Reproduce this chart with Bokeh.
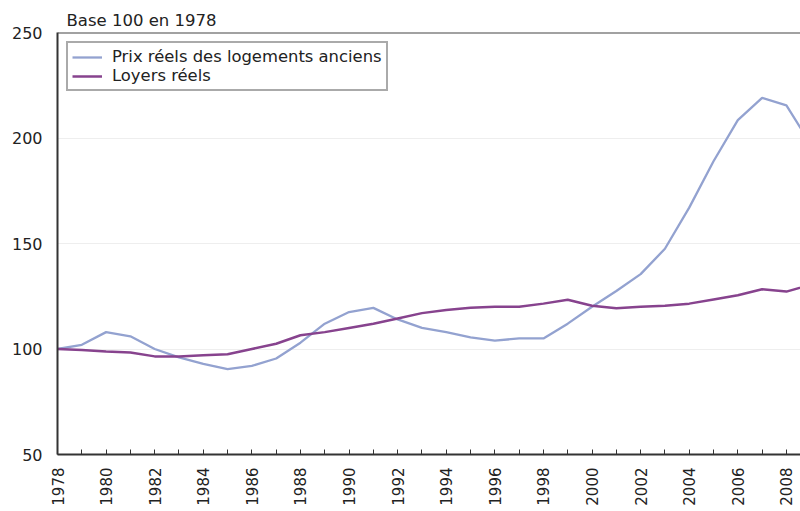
from bokeh.plotting import figure
from bokeh.models import FixedTicker, Span, Range1d, Legend, LegendItem
from bokeh.embed import file_html
from bokeh.resources import INLINE
import math

years = list(range(1978, 2010))
prix = [100, 102, 108, 106, 100, 96, 93, 90.5, 92, 95.5, 103, 112, 117.5, 119.5, 114, 110,
        108, 105.5, 104, 105, 105, 112, 120, 127.5, 135.5, 147.5, 167, 189, 208.5, 219, 215.5, 197]
loyers = [100, 99.5, 98.8, 98.3, 96.5, 96.5, 97, 97.5, 100, 102.5, 106.5, 108, 110, 112, 114.5, 117,
          118.5, 119.5, 120, 120, 121.5, 123.3, 120.5, 119.3, 120, 120.5, 121.5, 123.5, 125.5, 128.3, 127.2, 130.5]
y_ticks = [50, 100, 150, 200, 250]
x_label_years = list(range(1978, 2010, 2))
x_minor_years = list(range(1979, 2010, 2))

FONT = "DejaVu Sans"

p = figure(width=800, height=508, output_backend="svg", toolbar_location=None,
           x_range=Range1d(1978, 2008.58), y_range=Range1d(50, 250),
           min_border_left=57, min_border_right=0, min_border_top=32, min_border_bottom=53)
p.outline_line_color = None
p.background_fill_color = "white"

p.title.text = "Base 100 en 1978"
p.title.text_font = FONT
p.title.text_font_size = "16.5px"
p.title.text_font_style = "normal"
p.title.text_color = "#222222"
p.title.offset = 9
p.title.standoff = 5

# Grid
p.xgrid.grid_line_color = None
p.ygrid.ticker = FixedTicker(ticks=[100, 150, 200])
p.ygrid.grid_line_color = "#eeeeee"
p.ygrid.grid_line_width = 1

# top border
p.add_layout(Span(location=250, dimension="width", line_color="#444444", line_width=2))

# Y axis
p.yaxis.ticker = FixedTicker(ticks=y_ticks)
p.yaxis.axis_line_color = "#333333"
p.yaxis.axis_line_width = 2
p.yaxis.major_tick_line_color = None
p.yaxis.minor_tick_line_color = None
p.yaxis.major_tick_out = 0
p.yaxis.major_tick_in = 0
p.yaxis.minor_tick_out = 0
p.yaxis.major_label_standoff = 15
p.yaxis.major_label_text_font = FONT
p.yaxis.major_label_text_font_size = "16px"
p.yaxis.major_label_text_color = "#222222"

# X axis
p.xaxis.ticker = FixedTicker(ticks=x_label_years, minor_ticks=x_minor_years)
p.xaxis.axis_line_color = "#333333"
p.xaxis.axis_line_width = 2
p.xaxis.major_tick_in = 5
p.xaxis.major_tick_out = 0
p.xaxis.minor_tick_in = 5
p.xaxis.minor_tick_out = 0
p.xaxis.major_tick_line_color = "#333333"
p.xaxis.minor_tick_line_color = "#333333"
p.xaxis.major_tick_line_width = 1
p.xaxis.minor_tick_line_width = 1
p.xaxis.major_label_orientation = math.pi / 2
p.xaxis.major_label_standoff = 13
p.xaxis.major_label_text_font = FONT
p.xaxis.major_label_text_font_size = "15px"
p.xaxis.major_label_text_color = "#222222"

r1 = p.line(years, prix, line_color="#93a2d0", line_width=2.3)
r2 = p.line(years, loyers, line_color="#87438e", line_width=2.5)

legend = Legend(items=[LegendItem(label="Prix réels des logements anciens", renderers=[r1]),
                       LegendItem(label="Loyers réels", renderers=[r2])],
                location="top_left")
legend.margin = 9
legend.padding = 4
legend.spacing = 0
legend.glyph_width = 30
legend.glyph_height = 16
legend.label_height = 16
legend.label_standoff = 10
legend.label_text_font = FONT
legend.label_text_font_size = "16.4px"
legend.label_text_color = "#222222"
legend.border_line_color = "#555555"
legend.border_line_width = 2
legend.background_fill_alpha = 1
p.add_layout(legend)

open("out.html", "w").write(file_html(p, INLINE))
